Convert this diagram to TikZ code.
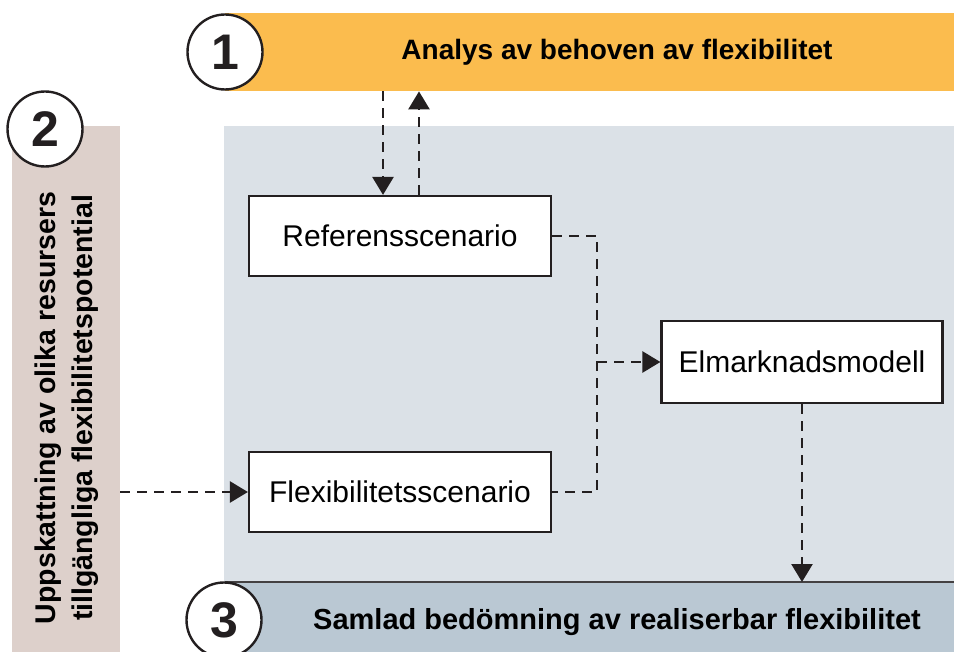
\documentclass[tikz,border=0pt]{standalone}
\usepackage{fontspec}
\setmainfont{Liberation Sans}
\usetikzlibrary{arrows.meta}
\definecolor{bannerorange}{HTML}{FBBC4E}
\definecolor{resourcecol}{HTML}{DDD0CB}
\definecolor{modelarea}{HTML}{DBE1E7}
\definecolor{assessblue}{HTML}{BAC8D3}
\definecolor{ink}{HTML}{231F20}
\tikzset{
  x=1pt, y=-1pt,
  panel/.style={draw=none, inner sep=0pt, anchor=north west},
  stepnum/.style={circle, draw=ink, line width=2.4pt, fill=white, minimum size=75pt,
    inner sep=0pt, font=\fontsize{50}{50}\selectfont\bfseries, text=ink},
  heading/.style={font=\fontsize{28}{34}\selectfont\bfseries, text=black, inner sep=0pt},
  modelbox/.style={draw=ink, line width=2.2pt, fill=white, inner sep=0pt,
    font=\fontsize{30}{36}\selectfont, text=black},
  dline/.style={draw=ink, line width=2.6pt, dash pattern=on 10pt off 7pt},
  flow/.style={dline, -{Triangle[length=18pt,width=21pt]}},
}
\begin{document}
\begin{tikzpicture}
\useasboundingbox (0,0) rectangle (954,652);
% background panels
\node[panel, fill=modelarea, minimum width=730pt, minimum height=456pt] (area) at (224,126) {};
\node[panel, fill=resourcecol, minimum width=108pt, minimum height=526pt] (col) at (12,126) {};
\node[panel, fill=bannerorange, minimum width=729pt, minimum height=78pt] (top) at (225,13) {};
\node[panel, fill=assessblue, minimum width=729pt, minimum height=70pt] (bot) at (225,582) {};
\draw[ink!85, line width=2pt] (bot.north west) -- (bot.north east);
% headings
\node[heading] (tophead) at (617,52) {Analys av behoven av flexibilitet};
\node[heading, font=\fontsize{29}{34}\selectfont\bfseries] (bothead) at (617,622) {Samlad bedömning av realiserbar flexibilitet};
\node[heading, rotate=90, align=center, font=\fontsize{28.5}{37}\selectfont\bfseries] (colhead) at (67,408)
  {Uppskattning av olika resursers\\tillgängliga flexibilitetspotential};
% step numbers
\node[stepnum] (n1) at (225,52) {1};
\node[stepnum] (n2) at (45,129) {2};
\node[stepnum] (n3) at (224,620) {3};
% model boxes
\node[modelbox, minimum width=302pt, minimum height=80pt] (ref) at (400,236) {Referensscenario};
\node[modelbox, minimum width=302pt, minimum height=80pt] (flex) at (400,492) {Flexibilitetsscenario};
\node[modelbox, minimum width=281pt, minimum height=82pt] (elm) at (802,362) {Elmarknadsmodell};
% connectors
\coordinate (dn) at (383,0);
\coordinate (up) at (419,0);
\coordinate (j) at (597,0);
\draw[flow] (top.south -| dn) -- (ref.north -| dn);
\draw[flow] (ref.north -| up) -- (top.south -| up);
\draw[dline] (ref.east) -- (ref.east -| j) -- (flex.east -| j) -- (flex.east);
\draw[flow] (elm.west -| j) -- (elm.west);
\draw[flow] (col.east |- flex.west) -- (flex.west);
\draw[flow] (elm.south) -- (elm.south |- bot.north);
\end{tikzpicture}
\end{document}
